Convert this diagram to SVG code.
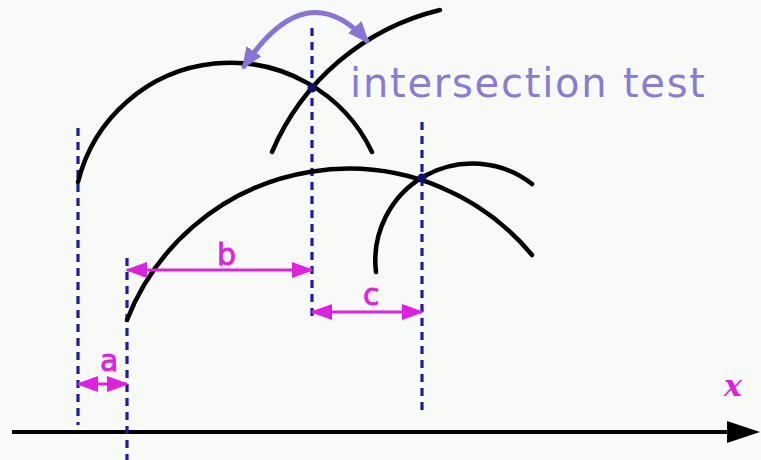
<svg xmlns="http://www.w3.org/2000/svg" width="761" height="460" viewBox="0 0 761 460">
<defs>
<style>
.arc{fill:none;stroke:#000;stroke-width:4.5;stroke-linecap:round}
.dash{stroke:#1c1ca8;stroke-width:3.2;stroke-dasharray:8,6}
.dim{stroke:#e020e0;stroke-width:3;fill:none}
.lbl{font-family:"DejaVu Sans",sans-serif;fill:#e020e0;font-size:30px;stroke:#e020e0;stroke-width:0.8}
</style>
<marker id="mh" viewBox="0 0 22 16" refX="20" refY="8" markerWidth="22" markerHeight="16" markerUnits="userSpaceOnUse" orient="auto-start-reverse">
<path d="M0,0 L22,8 L0,16 Z" fill="#e020e0"/>
</marker>
<marker id="ph" viewBox="0 0 22 18" refX="20" refY="9" markerWidth="22" markerHeight="18" markerUnits="userSpaceOnUse" orient="auto-start-reverse">
<path d="M0,0 L22,9 L0,18 Z" fill="#8a72d8"/>
</marker>
</defs>
<rect width="761" height="460" fill="#f7faf7"/>
<g id="axis">
<line x1="12" y1="432" x2="730" y2="432" stroke="#000" stroke-width="4"/>
<path d="M727,421 L760,432 L727,443 Z" fill="#000"/>
<text x="724" y="396" font-family="DejaVu Serif,serif" font-style="italic" font-weight="bold" font-size="30" fill="#e020e0">x</text>
</g>
<g id="guides">
<line class="dash" x1="78" y1="128" x2="78" y2="425"/>
<line class="dash" x1="127" y1="258" x2="127" y2="460"/>
<line class="dash" x1="312" y1="28" x2="312" y2="318"/>
<line class="dash" x1="422" y1="122" x2="422" y2="410"/>
</g>
<g id="arcs">
<path class="arc" d="M78,182 A157,157 0 0 1 372,152"/>
<path class="arc" d="M272,152 A245,245 0 0 1 440,10"/>
<path class="arc" d="M127,320 A238,238 0 0 1 532,255"/>
<path class="arc" d="M376,272 A97,97 0 0 1 532,184"/>
<circle cx="312" cy="88" r="4.5" fill="#101070"/>
<circle cx="422" cy="178" r="4.5" fill="#101070"/>
</g>
<g id="intersection">
<path d="M243,68 Q306,-28 368,42" fill="none" stroke="#8a72d8" stroke-width="5" marker-start="url(#ph)" marker-end="url(#ph)"/>
<text x="350" y="97" font-family="DejaVu Sans,sans-serif" font-size="40" fill="#8a7ad6" textLength="355">intersection test</text>
</g>
<g id="connectors">
<line class="dim" x1="127" y1="270" x2="312" y2="270" marker-start="url(#mh)" marker-end="url(#mh)"/>
<line class="dim" x1="312" y1="312" x2="422" y2="312" marker-start="url(#mh)" marker-end="url(#mh)"/>
<line class="dim" x1="78" y1="384" x2="127" y2="384" marker-start="url(#mh)" marker-end="url(#mh)"/>
</g>
<g id="labels">
<text class="lbl" x="217" y="265">b</text>
<text class="lbl" x="363" y="305">c</text>
<text class="lbl" x="100" y="371">a</text>
</g>
</svg>
